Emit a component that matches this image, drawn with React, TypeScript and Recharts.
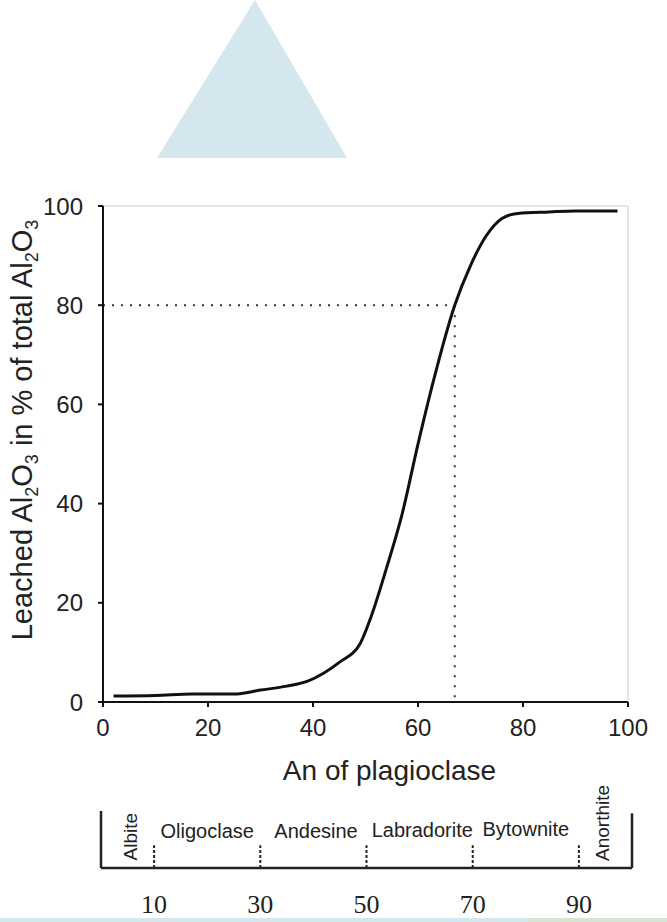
import React from "react"
import {
  LineChart,
  Line,
  XAxis,
  YAxis,
  ReferenceLine,
  ScatterChart,
  Scatter,
} from "recharts"

// leaching curve
const anContent = [2, 10, 17, 25, 30, 35, 39, 42, 45, 49, 51, 54, 57, 60, 63, 67, 70, 73, 76, 79, 85, 90, 98]
const leachedAl = [1.2, 1.3, 1.6, 1.6, 2.4, 3.2, 4.2, 5.8, 8, 11.8, 17, 27, 38, 52, 65, 80, 88, 94, 97.5, 98.5, 98.8, 99, 99]

const xTicks = [0, 20, 40, 60, 80, 100]
const yTicks = [0, 20, 40, 60, 80, 100]

// 80 % leached is reached at about An 67
const markLeached = 80
const markAn = 67

// plagioclase series scale
const boundaries = [10, 30, 50, 70, 90]
const mineralNames = ["Albite", "Oligoclase", "Andesine", "Labradorite", "Bytownite", "Anorthite"]
const mineralAn = [5.5, 20, 40.5, 60.5, 80, 94.3]
const mineralLevel = [5.5, 6.5, 6.5, 6.7, 6.8, 7.9]
const mineralUpright = [false, true, true, true, true, false]

const curveData = anContent.map((an, i) => ({ an, leached: leachedAl[i] }))
const mineralData = mineralNames.map((name, i) => ({
  an: mineralAn[i],
  level: mineralLevel[i],
  name,
  upright: mineralUpright[i],
}))

const sans = "'Liberation Sans', Arial, Helvetica, sans-serif"
const serif = "'Liberation Serif', 'Times New Roman', serif"

function YTitle(props: any) {
  const vb = props.viewBox || { x: 0, y: 0, width: 0, height: 0 }
  const cx = 32
  const cy = vb.y + vb.height / 2 - 24
  const sub = { fontSize: 18 }
  return (
    <text
      x={cx}
      y={cy}
      transform={`rotate(-90 ${cx} ${cy})`}
      textAnchor="middle"
      fontFamily={sans}
      fontSize={29}
      fill="#222"
    >
      Leached Al
      <tspan dy={6} {...sub}>2</tspan>
      <tspan dy={-6}>O</tspan>
      <tspan dy={6} {...sub}>3</tspan>
      <tspan dy={-6}> in % of total Al</tspan>
      <tspan dy={6} {...sub}>2</tspan>
      <tspan dy={-6}>O</tspan>
      <tspan dy={6} {...sub}>3</tspan>
    </text>
  )
}

function XTitle(props: any) {
  const vb = props.viewBox || { x: 0, y: 0, width: 0, height: 0 }
  return (
    <text
      x={vb.x + vb.width / 2 + 24}
      y={vb.y + 78}
      textAnchor="middle"
      fontFamily={sans}
      fontSize={28}
      fill="#222"
    >
      An of plagioclase
    </text>
  )
}

function MineralLabel(props: any) {
  const { cx, cy, payload } = props
  if (payload.upright) {
    return (
      <text x={cx} y={cy + 7} textAnchor="middle" fontFamily={sans} fontSize={20} fill="#222">
        {payload.name}
      </text>
    )
  }
  return (
    <text
      x={cx}
      y={cy}
      dy={7}
      transform={`rotate(-90 ${cx} ${cy})`}
      textAnchor="middle"
      fontFamily={sans}
      fontSize={19}
      fill="#222"
    >
      {payload.name}
    </text>
  )
}

export default function App() {
  return (
    <div style={{ position: "absolute", left: 0, top: 0, width: 667, height: 922, background: "#fff", overflow: "hidden" }}>
      {/* ternary triangle cut off at the top */}
      <svg width={667} height={170} style={{ position: "absolute", left: 0, top: 0 }}>
        <polygon points="255,0 157,158 347,158" fill="#d4e7ee" />
      </svg>

      <div style={{ position: "absolute", left: 0, top: 0 }}>
        <LineChart width={667} height={800} data={curveData} margin={{ top: 206, right: 39, bottom: 38, left: 0 }}>
          <XAxis
            dataKey="an"
            type="number"
            domain={[0, 100]}
            ticks={xTicks}
            height={60}
            tickSize={5}
            tickMargin={12}
            axisLine={{ stroke: "#111", strokeWidth: 2 }}
            tickLine={{ stroke: "#111", strokeWidth: 2 }}
            tick={{ fontFamily: sans, fontSize: 24, fill: "#222" }}
            label={<XTitle />}
          />
          <YAxis
            type="number"
            domain={[0, 100]}
            ticks={yTicks}
            width={103}
            tickSize={5}
            tickMargin={15}
            axisLine={{ stroke: "#111", strokeWidth: 2 }}
            tickLine={{ stroke: "#111", strokeWidth: 2 }}
            tick={{ fontFamily: sans, fontSize: 24, fill: "#222" }}
            label={<YTitle />}
          />
          <ReferenceLine y={100} stroke="#dcdcdc" strokeWidth={1.5} />
          <ReferenceLine x={100} stroke="#dcdcdc" strokeWidth={1.5} />
          <ReferenceLine
            segment={[{ x: 0, y: markLeached }, { x: markAn, y: markLeached }]}
            stroke="#333"
            strokeWidth={2}
            strokeDasharray="2 7"
          />
          <ReferenceLine
            segment={[{ x: markAn, y: markLeached }, { x: markAn, y: 0 }]}
            stroke="#333"
            strokeWidth={2}
            strokeDasharray="2 8"
          />
          <Line
            type="monotone"
            dataKey="leached"
            stroke="#111"
            strokeWidth={3}
            dot={false}
            isAnimationActive={false}
          />
        </LineChart>
      </div>

      <div style={{ position: "absolute", left: 0, top: 770 }}>
        <ScatterChart width={667} height={152} margin={{ top: 41, right: 35, bottom: 14, left: 101 }}>
          <XAxis
            dataKey="an"
            type="number"
            domain={[0, 100]}
            ticks={boundaries}
            height={40}
            axisLine={false}
            tickLine={false}
            tickSize={0}
            tickMargin={27}
            tick={{ fontFamily: serif, fontSize: 26, fill: "#222" }}
          />
          <YAxis dataKey="level" type="number" domain={[0, 10]} hide />
          <ReferenceLine segment={[{ x: 0, y: 0 }, { x: 0, y: 10 }]} stroke="#222" strokeWidth={2.5} />
          <ReferenceLine segment={[{ x: 100, y: 0 }, { x: 100, y: 9.6 }]} stroke="#222" strokeWidth={2.5} />
          <ReferenceLine segment={[{ x: 0, y: 0 }, { x: 100, y: 0 }]} stroke="#222" strokeWidth={2.5} />
          {boundaries.map((b) => (
            <ReferenceLine
              key={b}
              segment={[{ x: b, y: 0 }, { x: b, y: 4 }]}
              stroke="#222"
              strokeWidth={2}
              strokeDasharray="3 2"
            />
          ))}
          <Scatter data={mineralData} shape={<MineralLabel />} isAnimationActive={false} />
        </ScatterChart>
      </div>

      {/* coloured strip along the bottom edge */}
      <div style={{ position: "absolute", left: 0, top: 918, width: 528, height: 4, background: "#d4e7ef" }} />
      <div style={{ position: "absolute", left: 528, top: 918, width: 139, height: 4, background: "#d3e6d0" }} />
    </div>
  )
}
